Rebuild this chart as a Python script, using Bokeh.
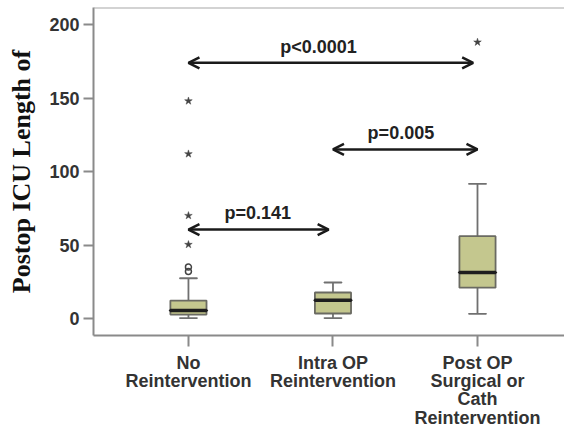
from bokeh.plotting import figure
from bokeh.models import Arrow, OpenHead, Span, FixedTicker, Range1d, ColumnDataSource
from bokeh.core.properties import value
from bokeh.embed import file_html
from bokeh.resources import INLINE

# ---- data ----
categories = ["No\nReintervention", "Intra OP\nReintervention",
              "Post OP\nSurgical or\nCath\nReintervention"]
q1 = [2.7, 3.4, 21.0]
median = [5.4, 12.5, 31.3]
q3 = [12.2, 17.7, 56.0]
lower = [0.3, 0.3, 3.2]
upper = [27.4, 24.5, 91.6]

# outliers: mild (circles) and extreme (stars)
mild_cat = [0, 0]
mild_val = [35.0, 32.0]
extreme_cat = [0, 0, 0, 0, 2]
extreme_val = [148.0, 112.0, 70.0, 50.3, 188.0]

# pairwise comparisons
cmp_from = [0, 1, 0]
cmp_to = [1.97, 2.0, 0.97]
cmp_level = [174.0, 115.0, 60.5]
cmp_label = ["p<0.0001", "p=0.005", "p=0.141"]
cmp_label_x = [0.90, 1.47, 0.48]
cmp_label_y = [185.0, 126.0, 71.5]

yticks = [0, 50, 100, 150, 200]

x = list(range(len(categories)))

Y_END = 211.6
p = figure(width=564, height=431, output_backend="svg", toolbar_location=None,
           x_range=Range1d(-0.657, 2.602), y_range=Range1d(-11.56, Y_END),
           min_border_left=93, min_border_right=0, min_border_top=7,
           min_border_bottom=96)
p.background_fill_color = "white"
p.border_fill_color = "white"
p.outline_line_color = None
p.xgrid.visible = False
p.ygrid.visible = False

AX = "#8a8a8a"
LBL = "#333333"
FONT = "Liberation Sans"

# top frame line
p.add_layout(Span(location=Y_END, dimension="width", line_color="#a8a8a8", line_width=2))

for ax in (p.xaxis[0], p.yaxis[0]):
    ax.axis_line_color = AX
    ax.axis_line_width = 2
    ax.major_tick_line_color = AX
    ax.major_tick_line_width = 2
    ax.minor_tick_line_color = None
    ax.major_tick_in = 0
    ax.major_label_text_font = FONT
    ax.major_label_text_font_style = "bold"
    ax.major_label_text_font_size = "18px"
    ax.major_label_text_color = LBL

p.yaxis.ticker = FixedTicker(ticks=yticks)
p.yaxis.major_tick_out = 10
p.yaxis.major_label_standoff = 4
p.yaxis.axis_label = "Postop ICU Length of"
p.yaxis.axis_label_text_font = "Liberation Serif"
p.yaxis.axis_label_text_font_style = "bold"
p.yaxis.axis_label_text_font_size = "26px"
p.yaxis.axis_label_text_color = "#111111"
p.yaxis.axis_label_standoff = 10

p.xaxis.ticker = FixedTicker(ticks=x)
p.xaxis.major_label_overrides = {i: c for i, c in zip(x, categories)}
p.xaxis.major_tick_out = 11
p.xaxis.major_label_standoff = 6
p.xaxis.major_label_text_line_height = 0.92

src = ColumnDataSource(dict(x=x, q1=q1, med=median, q3=q3, lo=lower, up=upper))

WH = "#707070"
# whiskers
p.segment(x0="x", y0="q3", x1="x", y1="up", source=src, line_color=WH, line_width=1.8)
p.segment(x0="x", y0="lo", x1="x", y1="q1", source=src, line_color=WH, line_width=1.8)
p.rect(x="x", y="up", width=0.12, height=0.01, source=src, line_color=WH, line_width=1.8,
       fill_color=None, height_units="screen")
p.rect(x="x", y="lo", width=0.12, height=0.01, source=src, line_color=WH, line_width=1.8,
       fill_color=None, height_units="screen")
# boxes
p.vbar(x="x", bottom="q1", top="q3", width=0.25, source=src, fill_color="#c4c78e",
       line_color="#6a6a62", line_width=1.8)
# medians
p.rect(x="x", y="med", width=0.25, height=0.01, height_units="screen", source=src,
       line_color="#1e1e1e", line_width=3.5, fill_color=None)

# outliers
p.scatter(mild_cat, mild_val, marker="circle", size=6, fill_color=None,
          line_color="#444444", line_width=1.5)
p.scatter(extreme_cat, extreme_val, marker="star", size=8, fill_color="#444444",
          line_color="#444444", line_width=0.5)

# comparisons
for a, b, lv in zip(cmp_from, cmp_to, cmp_level):
    p.add_layout(Arrow(start=OpenHead(size=11, line_width=2.5, line_color="#1a1a1a"),
                       end=OpenHead(size=11, line_width=2.5, line_color="#1a1a1a"),
                       x_start=a, y_start=lv, x_end=b, y_end=lv,
                       line_width=2.5, line_color="#1a1a1a"))

p.text(x=cmp_label_x, y=cmp_label_y, text=cmp_label, text_font=value(FONT),
       text_font_style="bold", text_font_size="18px", text_color="#222222",
       text_align="center", text_baseline="middle")

open("out.html", "w").write(file_html(p, INLINE))
